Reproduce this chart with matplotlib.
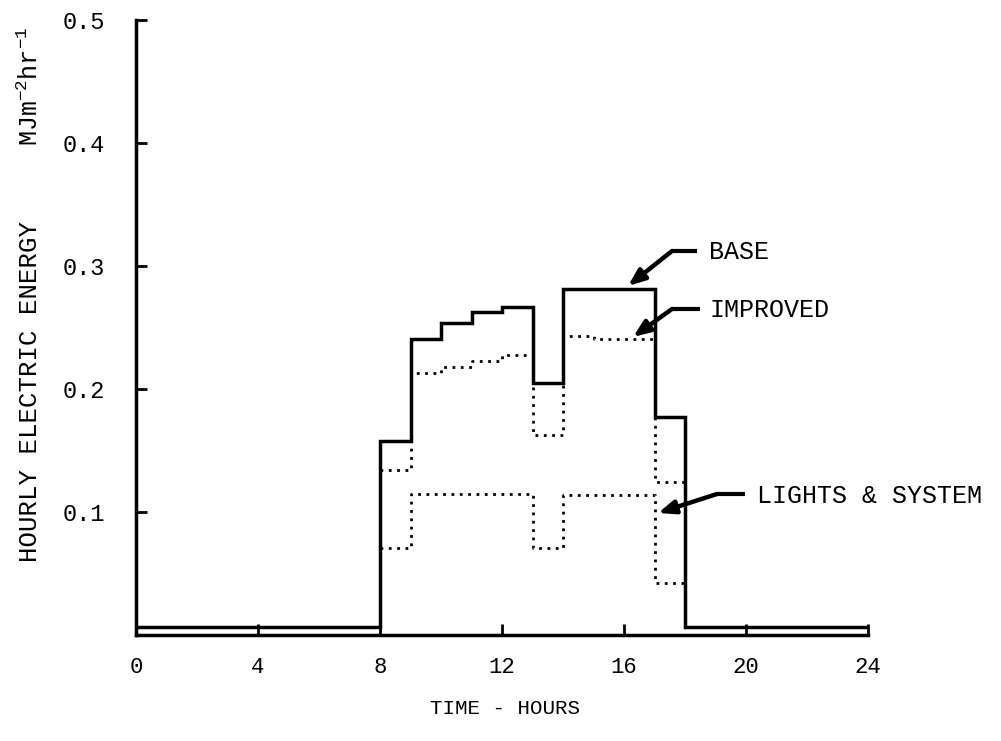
import matplotlib
matplotlib.use("Agg")
import matplotlib.pyplot as plt
import numpy as np

# ---- data ----
hours = list(range(25))  # hour edges 0..24
base = [0.0065]*8 + [0.158, 0.241, 0.254, 0.263, 0.267, 0.205,
                     0.281, 0.281, 0.281, 0.177] + [0.0065]*6
occ_hours = list(range(8, 19))  # 8..18 edges
improved = [0.134, 0.213, 0.218, 0.223, 0.228, 0.163, 0.243, 0.241, 0.241, 0.124]
lights = [0.071, 0.115, 0.115, 0.115, 0.115, 0.071, 0.114, 0.114, 0.114, 0.042]

x_ticks = [0, 4, 8, 12, 16, 20, 24]
y_ticks = [0.1, 0.2, 0.3, 0.4, 0.5]
y_tick_labels = ["0.1", "0.2", "0.3", "0.4", "0.5"]

FONT = "Liberation Mono"
plt.rcParams["font.family"] = [FONT, "DejaVu Sans"]
plt.rcParams["mathtext.fontset"] = "custom"
plt.rcParams["mathtext.rm"] = FONT
plt.rcParams["mathtext.default"] = "regular"

fig = plt.figure(figsize=(10.01, 7.41), dpi=100)
ax = fig.add_axes([136/1001, 1-635/741, (868-136)/1001, (635-20)/741])
ax.set_xlim(0, 24)
ax.set_ylim(0, 0.5)

# base (solid)
ax.step(hours, base + [base[-1]], where="post", color="black", lw=2.5, solid_joinstyle="miter")
# improved & lights (dotted)
ax.step(occ_hours, improved + [improved[-1]], where="post", color="black",
        lw=2.0, linestyle=(0, (1.0, 2.0)))
ax.step(occ_hours, lights + [lights[-1]], where="post", color="black",
        lw=2.0, linestyle=(0, (1.0, 2.0)))

for s in ["top", "right"]:
    ax.spines[s].set_visible(False)
for s in ["left", "bottom"]:
    ax.spines[s].set_linewidth(2.5)

ax.set_xticks(x_ticks)
ax.set_xticklabels([str(v) for v in x_ticks], fontsize=16)
ax.set_yticks(y_ticks)
ax.set_yticklabels(y_tick_labels, fontsize=17)
ax.tick_params(axis="both", direction="in", length=8, width=2.0)
ax.tick_params(axis="x", pad=16)
ax.tick_params(axis="y", pad=22)

# axis labels
fig.text(505/1001, 1-708/741, "TIME - HOURS", ha="center", va="center", fontsize=15)
fig.text(30/1001, 1-392/741, "HOURLY ELECTRIC ENERGY", rotation=90,
         ha="center", va="center", fontsize=18.5)
fig.text(30/1001, 1-86/741, r"MJm$^{-2}$hr$^{-1}$", rotation=90,
         ha="center", va="center", fontsize=18)

# annotations
def px(xp, yp):
    return ((xp - 136) / 30.5, (635 - yp) / 1230)

def callout(label, text_xy, tail, bend, tip):
    ax.plot([tail[0], bend[0]], [tail[1], bend[1]], color="black", lw=3.0,
            solid_capstyle="butt", clip_on=False)
    ax.annotate("", xy=tip, xytext=bend,
                arrowprops=dict(arrowstyle="-|>,head_length=1.0,head_width=0.4",
                                color="black", lw=3.2, shrinkA=0, shrinkB=0),
                annotation_clip=False)
    ax.text(text_xy[0], text_xy[1], label, ha="left", va="center",
            fontsize=18, clip_on=False)

callout("BASE", px(709, 252), px(697, 251), px(672, 251), px(628, 286))
callout("IMPROVED", px(709, 310), px(700, 309), px(672, 309), px(633, 337))
callout("LIGHTS & SYSTEM", px(757, 496), px(745, 494), px(717, 494), px(658, 513))

fig.savefig("out.png", dpi=100)
